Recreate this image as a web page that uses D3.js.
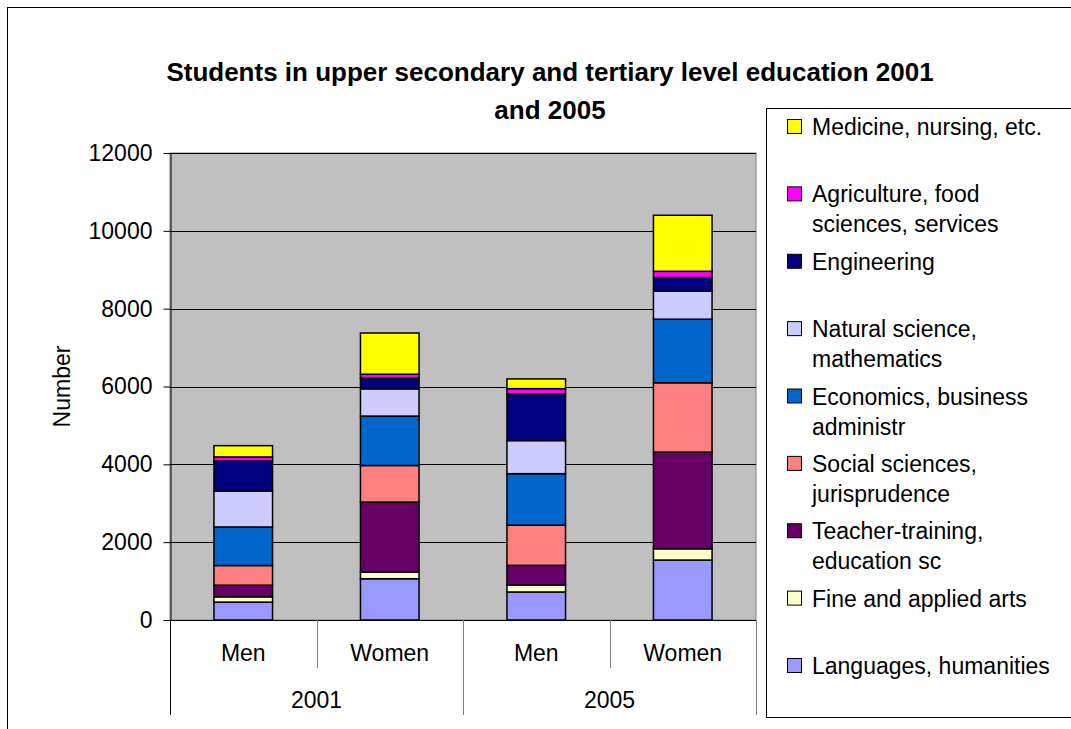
<!DOCTYPE html>
<html>
<head>
<meta charset="utf-8">
<script src="https://cdn.jsdelivr.net/npm/d3@7"></script>
<style>
  body { margin: 0; background: #fff; }
  text { font-family: "Liberation Sans", Arial, sans-serif; fill: #000; }
</style>
</head>
<body>
<div id="chart"></div>
<script>
// bars, left to right
var categories = ["Men", "Women", "Men", "Women"];
var years = ["2001", "2005"];

// series, bottom of the stack first
var fields = [
  "Languages, humanities",
  "Fine and applied arts",
  "Teacher-training, education sc",
  "Social sciences, jurisprudence",
  "Economics, business administr",
  "Natural science, mathematics",
  "Engineering",
  "Agriculture, food sciences, services",
  "Medicine, nursing, etc."
];
var legendLabels = [
  "Languages, humanities",
  "Fine and applied arts",
  "Teacher-training,\neducation sc",
  "Social sciences,\njurisprudence",
  "Economics, business\nadministr",
  "Natural science,\nmathematics",
  "Engineering",
  "Agriculture, food\nsciences, services",
  "Medicine, nursing, etc."
];
var colors = ["#9999ff", "#ffffcc", "#660066", "#ff8080", "#0066cc",
              "#ccccff", "#000080", "#ff00ff", "#ffff00"];

var languages   = [460, 1060, 720, 1540];
var fineArts    = [135, 170, 180, 290];
var teacher     = [300, 1800, 505, 2485];
var social      = [505, 940, 1030, 1780];
var economics   = [990, 1270, 1325, 1635];
var natural     = [925, 700, 850, 720];
var engineering = [770, 275, 1200, 350];
var agriculture = [105, 100, 135, 160];
var medicine    = [290, 1060, 250, 1440];

var yTicks = [0, 2000, 4000, 6000, 8000, 10000, 12000];

var series = [languages, fineArts, teacher, social, economics,
              natural, engineering, agriculture, medicine];

// one row per bar for d3.stack
var rows = categories.map(function(c, i) {
  var r = {idx: i};
  fields.forEach(function(f, k) { r[f] = series[k][i]; });
  return r;
});

var W = 1071, H = 729;
var plot = {left: 170, right: 756, top: 153, bottom: 620};

var svg = d3.select("#chart").append("svg")
    .attr("width", W)
    .attr("height", H);

// outer chart border (only left/top visible)
svg.append("rect")
  .attr("x", 7.5).attr("y", 7.5)
  .attr("width", 1200).attr("height", 900)
  .attr("fill", "#fff")
  .attr("stroke", "#000");

var x = d3.scaleBand()
  .domain(d3.range(categories.length))
  .range([plot.left, plot.right])
  .paddingInner(0.6)
  .paddingOuter(0.3);

var xYear = d3.scaleBand()
  .domain(years)
  .range([plot.left, plot.right]);

var y = d3.scaleLinear()
  .domain([0, 12000])
  .range([plot.bottom, plot.top]);

var color = d3.scaleOrdinal(fields, colors);

// plot background
svg.append("rect")
  .attr("x", plot.left).attr("y", plot.top)
  .attr("width", plot.right - plot.left)
  .attr("height", plot.bottom - plot.top)
  .attr("fill", "#c0c0c0")
  .attr("stroke", "#808080");

// gridlines
svg.append("g")
  .selectAll("line")
  .data(yTicks.slice(1))
  .enter().append("line")
    .attr("x1", plot.left).attr("x2", plot.right)
    .attr("y1", function(d) { return Math.round(y(d)) + 0.5; })
    .attr("y2", function(d) { return Math.round(y(d)) + 0.5; })
    .attr("stroke", "#000");

// stacked bars
var stacked = d3.stack().keys(fields)(rows);

var layer = svg.append("g").selectAll("g")
  .data(stacked)
  .enter().append("g")
    .attr("fill", function(d) { return color(d.key); });

layer.selectAll("rect")
  .data(function(d) { return d; })
  .enter().append("rect")
    .attr("x", function(d, i) { return x(i); })
    .attr("y", function(d) { return y(d[1]); })
    .attr("width", x.bandwidth())
    .attr("height", function(d) { return y(d[0]) - y(d[1]); })
    .attr("stroke", "#000")
    .attr("stroke-width", 1.5);

// y axis
var yAxis = svg.append("g")
  .attr("transform", "translate(" + (plot.left + 0.5) + ",0)")
  .call(d3.axisLeft(y).tickValues(yTicks).tickFormat(d3.format("d"))
    .tickSize(7).tickSizeOuter(0).tickPadding(11));
yAxis.selectAll("text").style("font-size", "23px");
yAxis.selectAll("line, path").attr("stroke", "#000");

svg.append("text")
  .attr("transform", "translate(62," + ((plot.top + plot.bottom) / 2) + ") rotate(-90)")
  .attr("text-anchor", "middle")
  .attr("dy", "0.35em")
  .style("font-size", "23px")
  .text("Number");

// category axis: baseline, dividers, labels
svg.append("line")
  .attr("x1", plot.left).attr("x2", plot.right)
  .attr("y1", plot.bottom + 0.5).attr("y2", plot.bottom + 0.5)
  .attr("stroke", "#000");

var catEdges = d3.range(categories.length + 1).map(function(i) {
  return plot.left + i * x.step();
});
svg.append("g").selectAll("line")
  .data(catEdges)
  .enter().append("line")
    .attr("x1", function(d) { return Math.round(d) + 0.5; })
    .attr("x2", function(d) { return Math.round(d) + 0.5; })
    .attr("y1", plot.bottom)
    .attr("y2", function(d, i) { return i % 2 === 0 ? 715 : 668; })
    .attr("stroke", function(d, i) { return i === 0 ? "#000" : "#808080"; });

svg.append("g").selectAll("text")
  .data(categories)
  .enter().append("text")
    .attr("x", function(d, i) { return x(i) + x.bandwidth() / 2; })
    .attr("y", 653)
    .attr("dy", "0.35em")
    .attr("text-anchor", "middle")
    .style("font-size", "23px")
    .text(function(d) { return d; });

svg.append("g").selectAll("text")
  .data(years)
  .enter().append("text")
    .attr("x", function(d) { return xYear(d) + xYear.bandwidth() / 2; })
    .attr("y", 700)
    .attr("dy", "0.35em")
    .attr("text-anchor", "middle")
    .style("font-size", "23px")
    .text(function(d) { return d; });

// title
var title = svg.append("text")
  .attr("x", 550)
  .attr("text-anchor", "middle")
  .style("font-size", "26px")
  .style("font-weight", "bold");
title.append("tspan").attr("x", 550).attr("y", 81)
  .text("Students in upper secondary and tertiary level education 2001");
title.append("tspan").attr("x", 550).attr("y", 119)
  .text("and 2005");

// legend
var legend = svg.append("g");
legend.append("rect")
  .attr("x", 766.5).attr("y", 108.5)
  .attr("width", 400).attr("height", 609)
  .attr("fill", "#fff")
  .attr("stroke", "#000");

var rowY = d3.scaleLinear().domain([0, fields.length - 1]).range([127, 666]);
var legendItems = legend.selectAll("g.item")
  .data(fields.slice().reverse())
  .enter().append("g")
    .attr("class", "item")
    .attr("transform", function(d, i) { return "translate(0," + rowY(i) + ")"; });

legendItems.append("rect")
  .attr("x", 787.5).attr("y", -7.5)
  .attr("width", 14).attr("height", 14)
  .attr("fill", function(d) { return color(d); })
  .attr("stroke", "#000");

legendItems.append("text")
  .style("font-size", "23px")
  .each(function(d) {
    var lines = legendLabels[fields.indexOf(d)].split("\n");
    var t = d3.select(this);
    lines.forEach(function(l, j) {
      t.append("tspan")
        .attr("x", 812)
        .attr("y", j * 30)
        .attr("dy", "0.35em")
        .text(l);
    });
  });
</script>
</body>
</html>
